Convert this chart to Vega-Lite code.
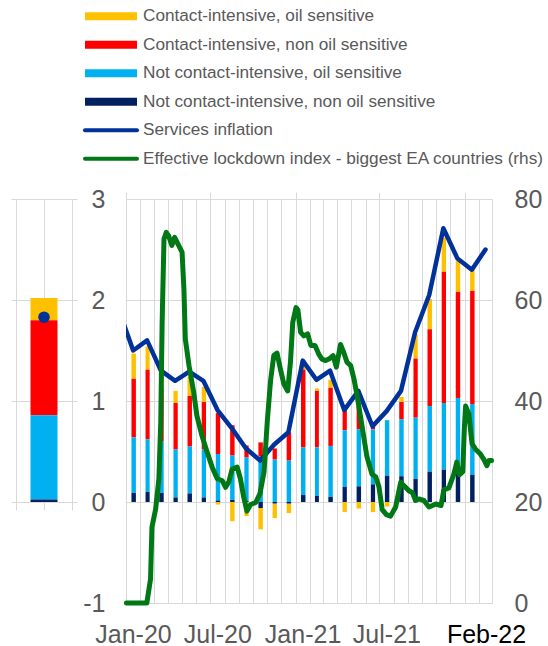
{
  "$schema": "https://vega.github.io/schema/vega-lite/v6.json",
  "padding": {"left": 11, "top": 2, "right": 0, "bottom": 0},
  "autosize": {"type": "pad"},
  "config": {
    "font": "Liberation Sans",
    "view": {"stroke": null},
    "axis": {"labelFont": "Liberation Sans", "gridColor": "#d9d9d9", "gridWidth": 1}
  },
  "datasets": {
    "legend": [
      {"code": "co", "series": "Contact-intensive, oil sensitive", "kind": "bar", "rank": 4},
      {"code": "cn", "series": "Contact-intensive, non oil sensitive", "kind": "bar", "rank": 3},
      {"code": "no", "series": "Not contact-intensive, oil sensitive", "kind": "bar", "rank": 2},
      {"code": "nn", "series": "Not contact-intensive, non oil sensitive", "kind": "bar", "rank": 1},
      {"code": "services", "series": "Services inflation", "kind": "line", "rank": 5},
      {"code": "lockdown", "series": "Effective lockdown index - biggest EA countries (rhs)", "kind": "line", "rank": 6}
    ],
    "average": [
      {"nn": 0.025, "no": 0.835, "cn": 0.94, "co": 0.22, "services": 1.83}
    ],
    "months": [
      {"month": "2019-12", "services": 1.9},
      {"month": "2020-01", "nn": 0.09, "no": 0.55, "cn": 0.58, "co": 0.25, "services": 1.50},
      {"month": "2020-02", "nn": 0.10, "no": 0.52, "cn": 0.69, "co": 0.23, "services": 1.60},
      {"month": "2020-03", "nn": 0.09, "no": 0.51, "cn": 0.52, "co": 0.17, "services": 1.30},
      {"month": "2020-04", "nn": 0.045, "no": 0.475, "cn": 0.46, "co": 0.12, "services": 1.20},
      {"month": "2020-05", "nn": 0.085, "no": 0.465, "cn": 0.50, "co": 0.19, "services": 1.29},
      {"month": "2020-06", "nn": 0.045, "no": 0.475, "cn": 0.47, "co": 0.15, "services": 1.20},
      {"month": "2020-07", "nn": 0.015, "no": 0.46, "cn": 0.405, "co": -0.025, "services": 0.91},
      {"month": "2020-08", "nn": 0.02, "no": 0.44, "cn": 0.30, "co": -0.19, "services": 0.73},
      {"month": "2020-09", "nn": 0.01, "no": 0.43, "cn": 0.12, "co": -0.14, "services": 0.53},
      {"month": "2020-10", "nn": -0.06, "no": 0.45, "cn": 0.14, "co": -0.21, "services": 0.41},
      {"month": "2020-11", "nn": -0.015, "no": 0.42, "cn": 0.11, "co": -0.145, "services": 0.57},
      {"month": "2020-12", "nn": -0.015, "no": 0.41, "cn": 0.28, "co": -0.095, "services": 0.69},
      {"month": "2021-01", "nn": 0.07, "no": 0.47, "cn": 0.77, "co": 0.04, "services": 1.40},
      {"month": "2021-02", "nn": 0.06, "no": 0.48, "cn": 0.56, "co": 0.025, "services": 1.21},
      {"month": "2021-03", "nn": 0.05, "no": 0.505, "cn": 0.575, "co": 0.08, "services": 1.30},
      {"month": "2021-04", "nn": 0.15, "no": 0.56, "cn": 0.20, "co": -0.10, "services": 0.91},
      {"month": "2021-05", "nn": 0.155, "no": 0.565, "cn": 0.23, "co": -0.065, "services": 1.10},
      {"month": "2021-06", "nn": 0.175, "no": 0.545, "cn": 0.04, "co": -0.10, "services": 0.75},
      {"month": "2021-07", "nn": 0.26, "no": 0.55, "cn": 0, "co": -0.045, "services": 0.90},
      {"month": "2021-08", "nn": 0.255, "no": 0.565, "cn": 0.17, "co": 0.05, "services": 1.10},
      {"month": "2021-09", "nn": 0.23, "no": 0.605, "cn": 0.585, "co": 0.24, "services": 1.68},
      {"month": "2021-10", "nn": 0.30, "no": 0.65, "cn": 0.76, "co": 0.30, "services": 2.05},
      {"month": "2021-11", "nn": 0.32, "no": 0.66, "cn": 1.30, "co": 0.34, "services": 2.71},
      {"month": "2021-12", "nn": 0.29, "no": 0.74, "cn": 1.05, "co": 0.31, "services": 2.41},
      {"month": "2022-01", "nn": 0.27, "no": 0.70, "cn": 1.12, "co": 0.21, "services": 2.30},
      {"month": "2022-02", "services": 2.50}
    ],
    "lockdown": [
      {"date": "2020-01-02", "value": 0},
      {"date": "2020-02-15", "value": 0},
      {"date": "2020-02-23", "value": 4.8},
      {"date": "2020-02-26", "value": 15},
      {"date": "2020-03-05", "value": 18.6},
      {"date": "2020-03-12", "value": 24.6},
      {"date": "2020-03-16", "value": 35.8},
      {"date": "2020-03-19", "value": 55.6},
      {"date": "2020-03-23", "value": 72.1},
      {"date": "2020-03-28", "value": 73.4},
      {"date": "2020-04-02", "value": 72.7},
      {"date": "2020-04-09", "value": 70.8},
      {"date": "2020-04-15", "value": 72.4},
      {"date": "2020-04-22", "value": 71.1},
      {"date": "2020-05-01", "value": 69.5},
      {"date": "2020-05-05", "value": 62.2},
      {"date": "2020-05-08", "value": 52.3},
      {"date": "2020-05-16", "value": 47},
      {"date": "2020-05-26", "value": 41.8},
      {"date": "2020-06-02", "value": 37.1},
      {"date": "2020-06-13", "value": 33.1},
      {"date": "2020-06-24", "value": 29.9},
      {"date": "2020-07-05", "value": 26.9},
      {"date": "2020-07-16", "value": 24.6},
      {"date": "2020-07-27", "value": 24.2},
      {"date": "2020-08-03", "value": 22.9},
      {"date": "2020-08-10", "value": 24},
      {"date": "2020-08-17", "value": 26.5},
      {"date": "2020-08-28", "value": 26.9},
      {"date": "2020-09-04", "value": 24.6},
      {"date": "2020-09-11", "value": 21},
      {"date": "2020-09-18", "value": 18.2},
      {"date": "2020-09-26", "value": 19.5},
      {"date": "2020-10-07", "value": 19.9},
      {"date": "2020-10-16", "value": 21.6},
      {"date": "2020-10-25", "value": 26},
      {"date": "2020-11-01", "value": 36},
      {"date": "2020-11-08", "value": 44},
      {"date": "2020-11-15", "value": 49},
      {"date": "2020-11-22", "value": 49.5},
      {"date": "2020-11-30", "value": 46},
      {"date": "2020-12-07", "value": 43.3},
      {"date": "2020-12-15", "value": 42},
      {"date": "2020-12-21", "value": 47.7},
      {"date": "2020-12-26", "value": 55.6},
      {"date": "2021-01-02", "value": 58.5},
      {"date": "2021-01-06", "value": 58},
      {"date": "2021-01-12", "value": 53.6},
      {"date": "2021-01-19", "value": 52.9},
      {"date": "2021-01-27", "value": 53.3},
      {"date": "2021-02-03", "value": 51},
      {"date": "2021-02-12", "value": 51},
      {"date": "2021-02-20", "value": 49.3},
      {"date": "2021-02-27", "value": 48.3},
      {"date": "2021-03-07", "value": 48},
      {"date": "2021-03-14", "value": 48.3},
      {"date": "2021-03-23", "value": 49},
      {"date": "2021-03-30", "value": 46.7},
      {"date": "2021-04-08", "value": 51.2},
      {"date": "2021-04-15", "value": 49.6},
      {"date": "2021-04-22", "value": 47.7},
      {"date": "2021-04-30", "value": 47},
      {"date": "2021-05-07", "value": 44.4},
      {"date": "2021-05-14", "value": 41},
      {"date": "2021-05-21", "value": 37},
      {"date": "2021-05-28", "value": 33},
      {"date": "2021-06-04", "value": 29},
      {"date": "2021-06-15", "value": 25.5},
      {"date": "2021-06-23", "value": 25},
      {"date": "2021-06-30", "value": 23},
      {"date": "2021-07-07", "value": 18.5},
      {"date": "2021-07-16", "value": 17.5},
      {"date": "2021-07-25", "value": 17.2},
      {"date": "2021-08-05", "value": 19},
      {"date": "2021-08-16", "value": 23.9},
      {"date": "2021-08-23", "value": 23.2},
      {"date": "2021-09-03", "value": 22.2},
      {"date": "2021-09-10", "value": 21.9},
      {"date": "2021-09-17", "value": 20.3},
      {"date": "2021-09-24", "value": 20.6},
      {"date": "2021-10-05", "value": 20.3},
      {"date": "2021-10-16", "value": 19},
      {"date": "2021-10-31", "value": 19.6},
      {"date": "2021-11-11", "value": 19.3},
      {"date": "2021-11-17", "value": 22.4},
      {"date": "2021-11-28", "value": 22.8},
      {"date": "2021-12-09", "value": 25.6},
      {"date": "2021-12-15", "value": 27.9},
      {"date": "2021-12-21", "value": 25.4},
      {"date": "2021-12-28", "value": 26},
      {"date": "2021-12-31", "value": 34},
      {"date": "2022-01-03", "value": 39},
      {"date": "2022-01-10", "value": 37.5},
      {"date": "2022-01-17", "value": 31.5},
      {"date": "2022-01-24", "value": 30.5},
      {"date": "2022-02-04", "value": 29.5},
      {"date": "2022-02-11", "value": 28.5},
      {"date": "2022-02-18", "value": 27.2},
      {"date": "2022-02-22", "value": 28.2},
      {"date": "2022-02-28", "value": 28.2}
    ]
  },
  "bounds": "flush",
  "spacing": 26,
  "resolve": {"scale": {"x": "independent", "y": "independent"}},
  "vconcat": [
    {
      "width": 420,
      "height": 171,
      "data": {"name": "legend"},
      "encoding": {
        "y": {
          "field": "series", "type": "nominal", "axis": null,
          "scale": {"type": "point", "padding": 0.5, "domain": ["Contact-intensive, oil sensitive", "Contact-intensive, non oil sensitive", "Not contact-intensive, oil sensitive", "Not contact-intensive, non oil sensitive", "Services inflation", "Effective lockdown index - biggest EA countries (rhs)"]}
        }
      },
      "layer": [
        {
          "transform": [{"filter": "datum.kind == 'bar'"}],
          "mark": {"type": "rule", "strokeWidth": 8, "strokeCap": "butt"},
          "encoding": {
            "x": {"datum": 74, "type": "quantitative", "scale": {"domain": [0, 420], "nice": false, "zero": false}, "axis": null},
            "x2": {"datum": 126},
            "color": {"field": "series", "type": "nominal", "legend": null,
              "scale": {"domain": ["Contact-intensive, oil sensitive", "Contact-intensive, non oil sensitive", "Not contact-intensive, oil sensitive", "Not contact-intensive, non oil sensitive", "Services inflation", "Effective lockdown index - biggest EA countries (rhs)"],
                        "range": ["#FFC000", "#FF0000", "#00B0F0", "#002060", "#003299", "#007816"]}}
          }
        },
        {
          "transform": [{"filter": "datum.kind == 'line'"}],
          "mark": {"type": "rule", "strokeWidth": 4, "strokeCap": "round"},
          "encoding": {
            "x": {"datum": 74, "type": "quantitative", "axis": null},
            "x2": {"datum": 126},
            "color": {"field": "series", "type": "nominal", "legend": null,
              "scale": {"domain": ["Contact-intensive, oil sensitive", "Contact-intensive, non oil sensitive", "Not contact-intensive, oil sensitive", "Not contact-intensive, non oil sensitive", "Services inflation", "Effective lockdown index - biggest EA countries (rhs)"],
                        "range": ["#FFC000", "#FF0000", "#00B0F0", "#002060", "#003299", "#007816"]}}
          }
        },
        {
          "mark": {"type": "text", "align": "left", "baseline": "middle", "fontSize": 17.2, "color": "#595959", "limit": 405, "ellipsis": ""},
          "encoding": {
            "x": {"datum": 132, "type": "quantitative", "axis": null},
            "text": {"field": "series"}
          }
        }
      ]
    },
    {
      "bounds": "flush",
      "spacing": 49,
      "resolve": {"scale": {"x": "independent", "y": "independent"}},
      "hconcat": [
        {
          "width": 66,
          "height": 303,
          "data": {"name": "average"},
          "layer": [
            {
              "transform": [
                {"fold": ["co", "cn", "no", "nn"], "as": ["code", "value"]},
                {"lookup": "code", "from": {"data": {"name": "legend"}, "key": "code", "fields": ["series", "rank"]}}
              ],
              "mark": {"type": "bar", "size": 27},
              "encoding": {
                "x": {"datum": 1, "type": "quantitative", "scale": {"domain": [0, 2], "nice": false},
                      "axis": {"values": [0, 1, 2], "grid": true, "ticks": true, "tickSize": 8, "tickColor": "#d9d9d9", "labels": false, "domain": false, "title": null}},
                "y": {"field": "value", "type": "quantitative", "stack": "zero", "scale": {"domain": [0, 3], "nice": false},
                      "axis": {"values": [0, 1, 2, 3], "grid": true, "ticks": false, "labels": false, "domain": false, "title": null}},
                "color": {"field": "series", "type": "nominal", "legend": null,
                  "scale": {"domain": ["Contact-intensive, oil sensitive", "Contact-intensive, non oil sensitive", "Not contact-intensive, oil sensitive", "Not contact-intensive, non oil sensitive", "Services inflation", "Effective lockdown index - biggest EA countries (rhs)"],
                            "range": ["#FFC000", "#FF0000", "#00B0F0", "#002060", "#003299", "#007816"]}},
                "order": {"field": "rank", "type": "quantitative"}
              }
            },
            {
              "mark": {"type": "point", "filled": true, "size": 133, "color": "#003299", "opacity": 1},
              "encoding": {
                "x": {"datum": 1, "type": "quantitative",
                      "axis": {"values": [0, 1, 2], "grid": true, "ticks": true, "tickSize": 8, "tickColor": "#d9d9d9", "labels": false, "domain": false, "title": null}},
                "y": {"field": "services", "type": "quantitative",
                      "axis": {"values": [0, 1, 2, 3], "grid": true, "ticks": false, "labels": false, "domain": false, "title": null}}
              }
            }
          ]
        },
        {
          "width": 366,
          "height": 404,
          "resolve": {"scale": {"y": "independent"}, "axis": {"x": "independent", "y": "independent"}},
          "layer": [
            {
              "data": {"name": "months"},
              "layer": [
                {
                  "transform": [
                    {"fold": ["co", "cn", "no", "nn"], "as": ["code", "value"]},
                    {"filter": "isValid(datum.value)"},
                    {"lookup": "code", "from": {"data": {"name": "legend"}, "key": "code", "fields": ["series", "rank"]}}
                  ],
                  "mark": {"type": "bar", "width": {"band": 0.38}, "clip": true},
                  "encoding": {
                    "x": {"field": "month", "type": "temporal", "timeUnit": "utcyearmonth",
                          "scale": {"type": "utc", "nice": false, "domain": [{"year": 2020, "month": 1, "date": 1, "utc": true}, {"year": 2022, "month": 3, "date": 1, "utc": true}]},
                          "axis": {"orient": "top", "values": [{"year": 2020, "month": 1, "date": 1, "utc": true}, {"year": 2020, "month": 7, "date": 1, "utc": true}, {"year": 2021, "month": 1, "date": 1, "utc": true}, {"year": 2021, "month": 7, "date": 1, "utc": true}, {"year": 2022, "month": 1, "date": 1, "utc": true}],
                                   "labels": false, "grid": false, "domain": false, "ticks": true, "tickSize": 7, "tickColor": "#d9d9d9", "title": null}},
                    "y": {"field": "value", "type": "quantitative", "stack": "zero", "scale": {"domain": [-1, 3], "nice": false},
                          "axis": {"orient": "left", "values": [-1, 0, 1, 2, 3], "grid": true, "ticks": false, "domain": false, "labelFontSize": 25, "labelColor": "#595959", "labelPadding": 21, "labelExpr": "datum.value < 0 ? '-' + abs(datum.value) : '' + datum.value", "title": null}},
                    "color": {"field": "series", "type": "nominal", "legend": null,
                      "scale": {"domain": ["Contact-intensive, oil sensitive", "Contact-intensive, non oil sensitive", "Not contact-intensive, oil sensitive", "Not contact-intensive, non oil sensitive", "Services inflation", "Effective lockdown index - biggest EA countries (rhs)"],
                                "range": ["#FFC000", "#FF0000", "#00B0F0", "#002060", "#003299", "#007816"]}},
                    "order": {"field": "rank", "type": "quantitative"}
                  }
                },
                {
                  "mark": {"type": "line", "color": "#003299", "strokeWidth": 4.5, "strokeJoin": "round", "strokeCap": "round", "clip": true},
                  "encoding": {
                    "x": {"field": "month", "type": "temporal", "timeUnit": "utcyearmonth", "bandPosition": 0.5,
                          "scale": {"type": "utc", "nice": false, "domain": [{"year": 2020, "month": 1, "date": 1, "utc": true}, {"year": 2022, "month": 3, "date": 1, "utc": true}]},
                          "axis": {"orient": "top", "values": [{"year": 2020, "month": 1, "date": 1, "utc": true}, {"year": 2020, "month": 7, "date": 1, "utc": true}, {"year": 2021, "month": 1, "date": 1, "utc": true}, {"year": 2021, "month": 7, "date": 1, "utc": true}, {"year": 2022, "month": 1, "date": 1, "utc": true}],
                                   "labels": false, "grid": false, "domain": false, "ticks": true, "tickSize": 7, "tickColor": "#d9d9d9", "title": null}},
                    "y": {"field": "services", "type": "quantitative", "scale": {"domain": [-1, 3], "nice": false},
                          "axis": {"orient": "left", "values": [-1, 0, 1, 2, 3], "grid": true, "ticks": false, "domain": false, "labelFontSize": 25, "labelColor": "#595959", "labelPadding": 21, "labelExpr": "datum.value < 0 ? '-' + abs(datum.value) : '' + datum.value", "title": null}}
                  }
                }
              ]
            },
            {
              "data": {"name": "lockdown"},
              "mark": {"type": "line", "color": "#007816", "strokeWidth": 5, "strokeJoin": "round", "strokeCap": "round"},
              "encoding": {
                "x": {"field": "date", "type": "temporal",
                      "scale": {"type": "utc", "nice": false, "domain": [{"year": 2020, "month": 1, "date": 1, "utc": true}, {"year": 2022, "month": 3, "date": 1, "utc": true}]},
                      "axis": {"orient": "bottom", "tickCount": {"interval": "month", "step": 1}, "grid": true, "ticks": false, "domain": false,
                               "labelExpr": "((utcmonth(datum.value) % 6 == 0) && utcyear(datum.value) < 2022) || (utcyear(datum.value) == 2022 && utcmonth(datum.value) == 1) ? utcFormat(datum.value, '%b-%y') : ''",
                               "labelOffset": 7, "labelFontSize": 25, "labelPadding": 19, "labelOverlap": false, "labelFlush": false, "labelBound": false,
                               "labelColor": {"condition": {"test": "utcyear(datum.value) == 2022", "value": "#000000"}, "value": "#595959"},
                               "title": null}},
                "y": {"field": "value", "type": "quantitative", "scale": {"domain": [0, 80], "nice": false},
                      "axis": {"orient": "right", "values": [0, 20, 40, 60, 80], "grid": false, "ticks": false, "domain": false, "labelFontSize": 25, "labelColor": "#595959", "labelPadding": 22, "title": null}}
              }
            }
          ]
        }
      ]
    }
  ]
}
